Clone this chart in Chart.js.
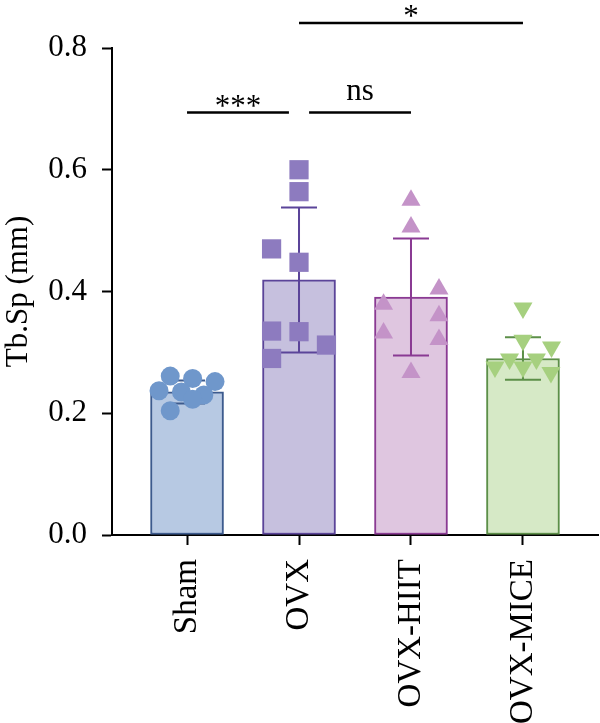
<!DOCTYPE html>
<html>
<head>
<meta charset="utf-8">
<script src="https://cdn.jsdelivr.net/npm/chart.js@4/dist/chart.umd.min.js"></script>
<style>
  body { margin: 0; background: #fff; }
  #wrap { width: 600px; height: 723px; }
</style>
</head>
<body>
<div id="wrap"><canvas id="grafico"></canvas></div>
<script>
// group names and summary values (mean, SD)
const categories = ['Sham', 'OVX', 'OVX-HIIT', 'OVX-MICE'];
const means = [0.235, 0.419, 0.391, 0.290];
const sds = [0.019, 0.119, 0.096, 0.035];

// individual animals, with horizontal jitter in category units
const shamPoints = [0.261, 0.257, 0.252, 0.237, 0.235, 0.230, 0.223, 0.204];
const shamJitter = [-0.15, 0.05, 0.25, -0.25, -0.05, 0.15, 0.05, -0.15];
const ovxPoints = [0.600, 0.564, 0.470, 0.448, 0.335, 0.334, 0.312, 0.290];
const ovxJitter = [0, 0, -0.245, 0, -0.245, 0, 0.245, -0.245];
const hiitPoints = [0.550, 0.506, 0.404, 0.379, 0.360, 0.332, 0.321, 0.267];
const hiitJitter = [0, 0, 0.25, -0.245, 0.25, -0.245, 0.25, 0];
const micePoints = [0.373, 0.320, 0.309, 0.289, 0.289, 0.276, 0.276, 0.267];
const miceJitter = [0, 0, 0.255, -0.12, 0.12, -0.25, 0, 0.25];

const yTicks = [0, 0.2, 0.4, 0.6, 0.8];

// significance brackets: [from, to] in category units, height, label
const sigFrom = [0, 1.09, 1];
const sigTo = [0.91, 2, 3];
const sigY = [0.694, 0.694, 0.841];
const sigLabels = ['***', 'ns', '*'];

const fills = ['#b7c9e3', '#c6c0de', '#dfc6e0', '#d6e9c6'];
const borders = ['#3d5b8e', '#5b4499', '#8a3a93', '#5c8f48'];
const dotColors = ['#6f97cb', '#8d7bbf', '#c493c8', '#a6d07f'];

const FONT = 'Liberation Serif';

const scatterSet = (values, jitter, idx, style, radius, rot) => ({
    type: 'scatter',
    data: values.map((v, i) => ({ x: idx + jitter[i], y: v })),
    pointStyle: style,
    pointRadius: radius,
    pointRotation: rot,
    backgroundColor: dotColors[idx],
    borderWidth: 0,
    order: 1
});

const errorBars = {
    id: 'errorBars',
    afterDatasetDraw(chart, args) {
        if (args.index !== 0) return;
        const ctx = chart.ctx;
        const x = chart.scales.x, y = chart.scales.y;
        ctx.save();
        ctx.lineWidth = 2;
        means.forEach((m, i) => {
            const cx = x.getPixelForValue(i);
            const top = y.getPixelForValue(m + sds[i]);
            const bot = y.getPixelForValue(m - sds[i]);
            const half = 18;
            ctx.strokeStyle = borders[i];
            ctx.beginPath();
            ctx.moveTo(cx, top); ctx.lineTo(cx, bot);
            ctx.moveTo(cx - half, top); ctx.lineTo(cx + half, top);
            ctx.moveTo(cx - half, bot); ctx.lineTo(cx + half, bot);
            ctx.stroke();
        });
        ctx.restore();
    },
    afterDraw(chart) {
        const ctx = chart.ctx;
        const x = chart.scales.x, y = chart.scales.y;
        ctx.save();
        ctx.strokeStyle = '#000';
        ctx.fillStyle = '#000';
        ctx.lineWidth = 2.5;
        ctx.textAlign = 'center';
        ctx.textBaseline = 'alphabetic';
        ctx.font = '31px "' + FONT + '"';
        sigLabels.forEach((lab, i) => {
            const x1 = x.getPixelForValue(sigFrom[i]);
            const x2 = x.getPixelForValue(sigTo[i]);
            const py = y.getPixelForValue(sigY[i]);
            ctx.beginPath();
            ctx.moveTo(x1, py); ctx.lineTo(x2, py);
            ctx.stroke();
            const off = lab === 'ns' ? 13 : -3;
            ctx.fillText(lab, (x1 + x2) / 2, py - off);
        });
        ctx.restore();
    }
};

new Chart(document.getElementById('grafico'), {
    type: 'bar',
    data: {
        datasets: [
            {
                type: 'bar',
                data: means.map((m, i) => ({ x: i, y: m })),
                backgroundColor: fills,
                borderColor: borders,
                borderWidth: 2,
                borderSkipped: false,
                barThickness: 73,
                order: 2
            },
            scatterSet(shamPoints, shamJitter, 0, 'circle', 9.5, 0),
            scatterSet(ovxPoints, ovxJitter, 1, 'rect', 13.6, 0),
            scatterSet(hiitPoints, hiitJitter, 2, 'triangle', 11, 0),
            scatterSet(micePoints, miceJitter, 3, 'triangle', 11, 180)
        ]
    },
    options: {
        responsive: true,
        maintainAspectRatio: false,
        animation: false,
        layout: { autoPadding: false, padding: { top: 48, right: 2, left: 0, bottom: 0 } },
        plugins: {
            legend: { display: false },
            tooltip: { enabled: false }
        },
        scales: {
            x: {
                type: 'linear',
                min: -0.67,
                max: 3.67,
                offset: false,
                afterBuildTicks: (scale) => { scale.ticks = categories.map((c, i) => ({ value: i })); },
                afterFit: (scale) => {
                    scale.height = 188;
                    scale.paddingLeft = 0;
                    scale.paddingRight = 0;
                },
                border: { display: true, color: '#000', width: 2 },
                grid: { display: true, offset: false, drawOnChartArea: false, tickLength: 10, tickColor: '#000', tickWidth: 2 },
                ticks: {
                    minRotation: 90,
                    maxRotation: 90,
                    padding: 14,
                    color: '#000',
                    font: { family: FONT, size: 33 },
                    callback: (v) => categories[v]
                }
            },
            y: {
                min: 0,
                max: 0.8,
                afterBuildTicks: (scale) => { scale.ticks = yTicks.map(v => ({ value: v })); },
                afterFit: (scale) => { scale.width = 112; },
                border: { display: true, color: '#000', width: 2 },
                grid: { display: true, drawOnChartArea: false, tickLength: 10, tickColor: '#000', tickWidth: 2 },
                ticks: {
                    padding: 15,
                    color: '#000',
                    font: { family: FONT, size: 31 },
                    callback: (v) => v.toFixed(1)
                },
                title: {
                    display: true,
                    text: 'Tb.Sp (mm)',
                    color: '#000',
                    font: { family: FONT, size: 31 },
                    padding: { top: 0, bottom: 0 }
                }
            }
        }
    },
    plugins: [errorBars]
});
</script>
</body>
</html>
